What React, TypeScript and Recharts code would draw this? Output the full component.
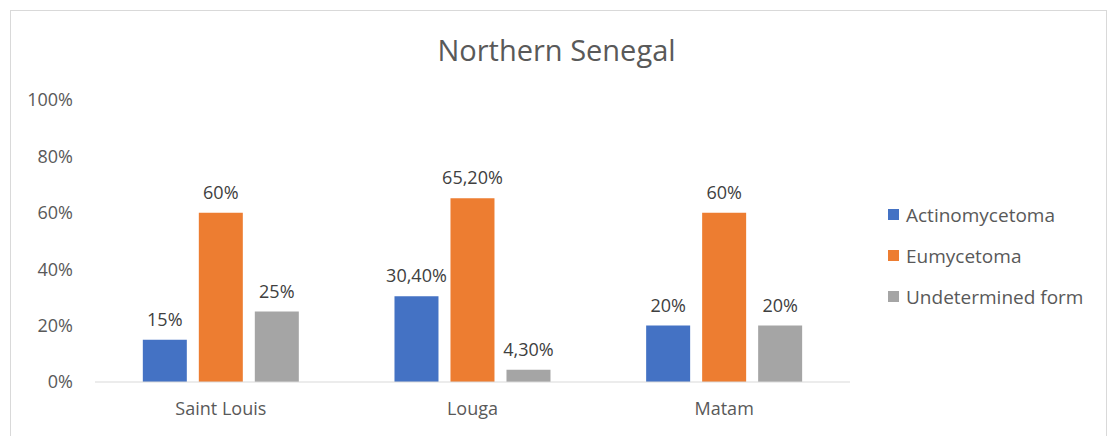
import { Bar, BarChart, LabelList, XAxis, YAxis } from 'recharts'

const regions = ['Saint Louis', 'Louga', 'Matam']
const actinomycetoma = [15, 30.4, 20]
const eumycetoma = [60, 65.2, 60]
const undetermined = [25, 4.3, 20]
const yTicks = [0, 20, 40, 60, 80, 100]

const SERIES = [
  { key: 'actino', name: 'Actinomycetoma', color: '#4472C4' },
  { key: 'eumy', name: 'Eumycetoma', color: '#ED7D31' },
  { key: 'undet', name: 'Undetermined form', color: '#A5A5A5' },
]

const FONT = '"Open Sans", sans-serif'

const data = regions.map((region, i) => ({
  region,
  actino: actinomycetoma[i],
  eumy: eumycetoma[i],
  undet: undetermined[i],
}))

const fmtLabel = (v: unknown) => {
  const n = Number(v)
  return Number.isInteger(n) ? `${n}%` : `${n.toFixed(2).replace('.', ',')}%`
}

function LegendBox() {
  return (
    <div
      style={{
        position: 'absolute',
        left: 888,
        top: 194,
        fontFamily: FONT,
        fontSize: 19,
        color: '#595959',
      }}
    >
      {SERIES.map((s) => (
        <div key={s.key} style={{ display: 'flex', alignItems: 'center', height: 41 }}>
          <span
            style={{ width: 11, height: 11, background: s.color, marginRight: 7, display: 'inline-block' }}
          />
          {s.name}
        </div>
      ))}
    </div>
  )
}

export default function App() {
  return (
    <div style={{ position: 'absolute', left: 0, top: 0, width: 1113, height: 436, background: '#fff', overflow: 'hidden' }}>
      <div
        style={{
          position: 'absolute',
          left: 10,
          top: 10,
          width: 1095,
          height: 440,
          border: '1px solid #d9d9d9',
        }}
      />
      <div
        style={{
          position: 'absolute',
          left: 0,
          width: 1113,
          top: 30,
          textAlign: 'center',
          fontFamily: FONT,
          fontSize: 29,
          color: '#595959',
          lineHeight: '40px',
        }}
      >
        Northern Senegal
      </div>
      <div style={{ position: 'absolute', left: 0, top: 0 }}>
        <BarChart
          width={1113}
          height={436}
          data={data}
          margin={{ top: 100, right: 263, bottom: 0, left: 0 }}
          barGap={12}
          barCategoryGap="19%"
        >
          <XAxis
            dataKey="region"
            height={54}
            tickLine={false}
            tickSize={0}
            tickMargin={20}
            axisLine={{ stroke: '#d9d9d9' }}
            tick={{ fontFamily: FONT, fontSize: 18, fill: '#595959' }}
          />
          <YAxis
            width={95}
            domain={[0, 100]}
            ticks={yTicks}
            tickFormatter={(v) => `${v}%`}
            axisLine={false}
            tickLine={false}
            tickSize={0}
            tickMargin={22}
            tick={{ fontFamily: FONT, fontSize: 18, fill: '#595959' }}
          />
          {SERIES.map((s) => (
            <Bar key={s.key} dataKey={s.key} name={s.name} fill={s.color} isAnimationActive={false}>
              <LabelList
                dataKey={s.key}
                position="top"
                offset={14}
                formatter={fmtLabel}
                style={{ fontFamily: FONT, fontSize: 18, fill: '#404040' }}
              />
            </Bar>
          ))}
        </BarChart>
      </div>
      <LegendBox />
    </div>
  )
}
